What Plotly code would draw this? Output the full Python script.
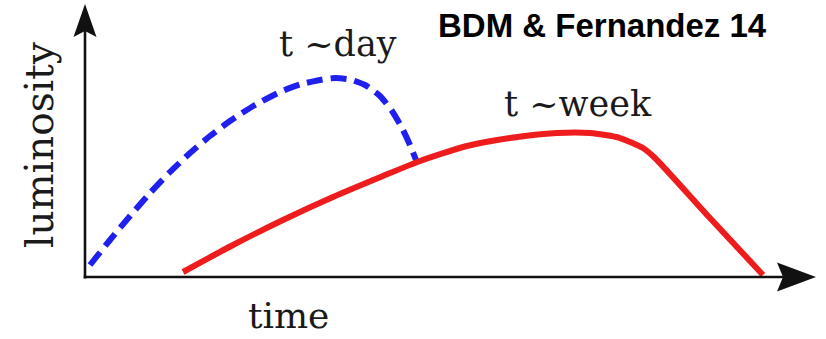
import plotly.graph_objects as go

# Schematic light curves in arbitrary units (time 0-100, luminosity 0-100)
day_time = [0.55, 3.29, 6.04, 8.78, 11.52, 14.27, 17.01, 19.75, 23.18, 26.61,
            29.36, 32.10, 34.16, 36.21, 38.27, 40.33, 41.98, 43.35, 44.44, 45.27]
day_lum = [4.41, 13.60, 22.43, 30.88, 38.60, 45.59, 51.84, 57.35, 63.24, 68.01,
           70.77, 72.43, 73.16, 72.61, 70.59, 66.54, 61.03, 54.78, 48.53, 43.01]

week_time = [13.31, 20.16, 27.02, 33.88, 40.74, 45.82, 52.26, 58.16, 64.61,
             69.14, 73.25, 76.41, 78.05, 85.46, 92.87]
week_lum = [1.84, 11.76, 20.96, 29.41, 37.13, 42.65, 48.16, 51.10, 52.94,
            52.94, 51.10, 47.43, 43.75, 22.06, 0.74]

label_day = "t ~day"
label_week = "t ~week"
x_title = "time"
y_title = "luminosity"
credit = "BDM & Fernandez 14"

# Canvas geometry (pixels)
W, H = 826, 339
X0, Y0 = 86, 277          # pixel position of the axes origin
SX, SY = 7.29, 2.72       # pixels per data unit


def px(x):
    return x / W


def py(y):
    return 1 - y / H


fig = go.Figure()

fig.add_trace(go.Scatter(
    x=day_time, y=day_lum, mode="lines",
    line=dict(color="#2020EE", width=6, dash="16px,8px", shape="spline", smoothing=0.6),
    hoverinfo="skip", showlegend=False,
))
fig.add_trace(go.Scatter(
    x=week_time, y=week_lum, mode="lines",
    line=dict(color="#EE1C1C", width=6, shape="spline", smoothing=0.6),
    hoverinfo="skip", showlegend=False,
))

axis_color = "#111111"
shapes = [
    # vertical axis
    dict(type="line", xref="paper", yref="paper",
         x0=px(85), y0=py(278.5), x1=px(85), y1=py(30),
         line=dict(color=axis_color, width=2.6)),
    # horizontal axis
    dict(type="line", xref="paper", yref="paper",
         x0=px(83.7), y0=py(277), x1=px(785), y1=py(277),
         line=dict(color=axis_color, width=2.6)),
    # arrowheads
    dict(type="path", xref="paper", yref="paper",
         path=(f"M{px(85)},{py(4)} L{px(96.5)},{py(37)} L{px(85)},{py(31)} "
               f"L{px(73.5)},{py(37)} Z"),
         fillcolor=axis_color, line=dict(width=0)),
    dict(type="path", xref="paper", yref="paper",
         path=(f"M{px(816)},{py(277)} L{px(777)},{py(262.5)} L{px(783)},{py(277)} "
               f"L{px(777)},{py(291.5)} Z"),
         fillcolor=axis_color, line=dict(width=0)),
]

serif = "DejaVu Serif"
text_color = "#1a1a1a"
annotations = [
    dict(text=label_day, x=px(338), y=py(44), xref="paper", yref="paper",
         showarrow=False, xanchor="center", yanchor="middle",
         font=dict(family=serif, size=35, color=text_color)),
    dict(text=label_week, x=px(578), y=py(104), xref="paper", yref="paper",
         showarrow=False, xanchor="center", yanchor="middle",
         font=dict(family=serif, size=35, color=text_color)),
    dict(text=x_title, x=px(288), y=py(315), xref="paper", yref="paper",
         showarrow=False, xanchor="center", yanchor="middle",
         font=dict(family=serif, size=36, color=text_color)),
    dict(text=y_title, x=px(40), y=py(145), xref="paper", yref="paper",
         showarrow=False, xanchor="center", yanchor="middle", textangle=-90,
         font=dict(family=serif, size=39, color=text_color)),
    dict(text=f"<b>{credit}</b>", x=px(602), y=py(25.5), xref="paper", yref="paper",
         showarrow=False, xanchor="center", yanchor="middle",
         font=dict(family="Liberation Sans", size=33, color="#000000")),
]

fig.update_layout(
    width=W, height=H,
    margin=dict(l=0, r=0, t=0, b=0),
    paper_bgcolor="white", plot_bgcolor="white",
    xaxis=dict(range=[-X0 / SX, (W - X0) / SX], visible=False, fixedrange=True),
    yaxis=dict(range=[-(H - Y0) / SY, Y0 / SY], visible=False, fixedrange=True),
    shapes=shapes, annotations=annotations,
)

fig.write_html("out.html")
